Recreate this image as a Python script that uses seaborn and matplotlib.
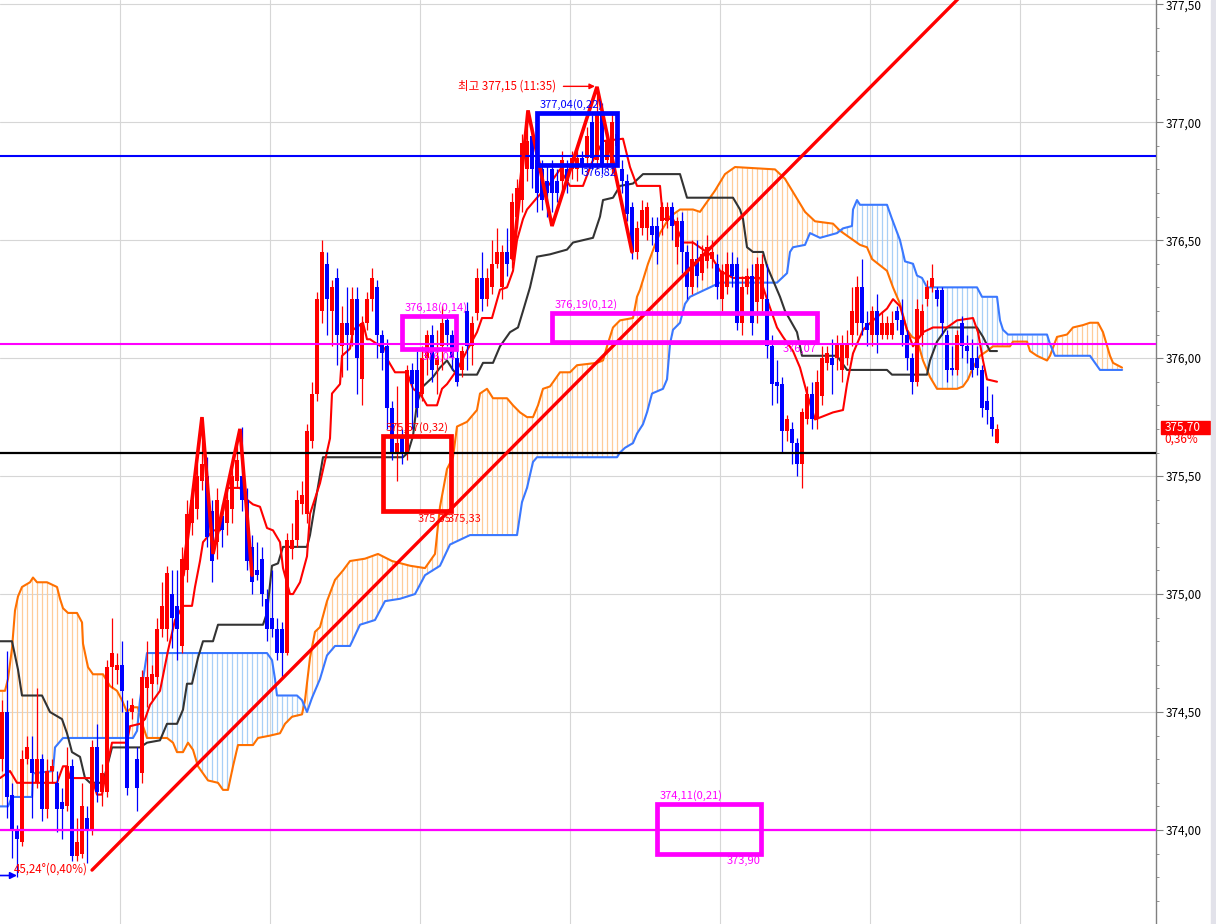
import numpy as np
import pandas as pd
import matplotlib
matplotlib.use('Agg')
import matplotlib.pyplot as plt
from matplotlib.patches import Rectangle
from matplotlib.ticker import MultipleLocator, FuncFormatter
import seaborn as sns

sns.set_style('white')
plt.rcParams['font.family'] = ['Noto Sans CJK KR', 'DejaVu Sans']

# 봉 데이터 (시가, 고가, 저가, 종가)
opens = [374.30, 374.50, 374.15, 374.00, 373.95, 374.30, 374.30, 374.20, 374.30, 374.09,
         374.25, 374.20, 374.12, 374.10, 374.27, 373.89, 373.90, 374.05, 374.00, 374.35,
         374.16, 374.16, 374.69, 374.68, 374.70, 374.50, 374.50, 374.30, 374.24, 374.60,
         374.62, 374.65, 374.85, 374.85, 375.00, 374.95, 374.78, 375.10, 375.30, 375.36,
         375.48, 375.50, 375.35, 375.22, 375.33, 375.30, 375.36, 375.48, 375.50, 375.40,
         375.20, 375.10, 375.15, 374.98, 374.90, 374.85, 374.85, 374.75, 375.19, 375.23,
         375.38, 375.34, 375.65, 375.85, 376.20, 376.40, 376.20, 376.34, 376.05, 376.15,
         376.10, 376.25, 375.91, 376.15, 376.25, 376.30, 376.10, 376.05, 375.79, 375.60,
         375.66, 375.60, 375.95, 375.95, 375.85, 376.00, 376.10, 375.97, 376.05, 376.16,
         376.10, 376.00, 375.95, 376.20, 376.05, 376.19, 376.34, 376.25, 376.30, 376.40,
         376.30, 376.45, 376.42, 376.60, 376.67, 376.80, 376.94, 376.84, 376.80, 376.75,
         376.80, 376.75, 376.75, 376.80, 376.80, 376.80, 376.85, 376.85, 377.00, 376.84,
         377.04, 376.84, 376.82, 376.90, 376.80, 376.75, 376.64, 376.45, 376.55, 376.55,
         376.56, 376.56, 376.58, 376.58, 376.64, 376.47, 376.58, 376.45, 376.30, 376.42,
         376.36, 376.41, 376.42, 376.40, 376.25, 376.30, 376.40, 376.40, 376.15, 376.30,
         376.35, 376.24, 376.25, 376.25, 376.05, 375.90, 375.89, 375.69, 375.70, 375.64,
         375.55, 375.74, 375.85, 375.74, 375.84, 375.98, 376.00, 376.00, 375.95, 376.00,
         376.10, 376.15, 376.30, 376.15, 376.10, 376.20, 376.10, 376.10, 376.10, 376.20,
         376.16, 376.10, 376.00, 375.90, 376.10, 376.25, 376.30, 376.29, 376.29, 376.10,
         375.96, 375.95, 376.15, 376.05, 376.00, 376.00, 375.95, 375.82, 375.75, 375.64]
highs = [374.55, 374.76, 374.20, 374.02, 374.34, 374.40, 374.40, 374.60, 374.32, 374.30,
         374.30, 374.25, 374.18, 374.35, 374.30, 374.05, 374.20, 374.10, 374.38, 374.45,
         374.28, 374.72, 374.90, 374.75, 374.80, 374.55, 374.56, 374.35, 374.68, 374.80,
         374.70, 374.90, 375.05, 375.12, 375.10, 375.10, 375.20, 375.40, 375.45, 375.55,
         375.72, 375.58, 375.40, 375.45, 375.38, 375.45, 375.55, 375.66, 375.71, 375.45,
         375.25, 375.22, 375.20, 375.02, 375.10, 374.90, 374.88, 375.26, 375.30, 375.44,
         375.48, 375.72, 375.90, 376.28, 376.50, 376.45, 376.33, 376.38, 376.22, 376.30,
         376.30, 376.30, 376.18, 376.28, 376.38, 376.33, 376.12, 376.08, 375.82, 375.88,
         375.70, 375.97, 375.98, 376.03, 376.05, 376.12, 376.14, 376.12, 376.22, 376.18,
         376.12, 376.04, 376.05, 376.24, 376.18, 376.38, 376.45, 376.38, 376.50, 376.55,
         376.48, 376.55, 376.70, 376.76, 376.95, 377.05, 376.98, 376.88, 376.84, 376.82,
         376.84, 376.80, 376.88, 376.84, 376.88, 376.90, 376.88, 376.98, 377.03, 377.15,
         377.08, 376.96, 377.04, 377.02, 376.84, 376.78, 376.66, 376.58, 376.67, 376.66,
         376.60, 376.60, 376.66, 376.66, 376.66, 376.60, 376.62, 376.48, 376.50, 376.50,
         376.48, 376.52, 376.50, 376.44, 376.40, 376.45, 376.45, 376.43, 376.35, 376.38,
         376.40, 376.43, 376.44, 376.40, 376.10, 375.99, 375.92, 375.76, 375.73, 375.66,
         375.79, 375.88, 375.90, 375.95, 376.05, 376.05, 376.08, 376.10, 376.10, 376.12,
         376.30, 376.35, 376.42, 376.20, 376.22, 376.27, 376.20, 376.18, 376.20, 376.22,
         376.25, 376.12, 376.02, 376.25, 376.23, 376.33, 376.40, 376.30, 376.30, 376.12,
         376.05, 376.12, 376.18, 376.10, 376.08, 376.05, 375.97, 375.88, 375.85, 375.72]
lows = [374.25, 374.05, 373.88, 373.80, 373.93, 374.28, 374.05, 374.18, 374.04, 374.05,
        374.20, 373.99, 373.96, 374.08, 373.87, 373.87, 373.88, 373.86, 373.98, 374.12,
        374.10, 374.14, 374.60, 374.62, 374.50, 374.15, 374.47, 374.08, 374.20, 374.52,
        374.55, 374.62, 374.82, 374.80, 374.77, 374.72, 374.75, 375.05, 375.25, 375.32,
        375.44, 375.20, 375.05, 375.15, 375.20, 375.25, 375.30, 375.45, 375.35, 375.10,
        375.00, 375.06, 374.95, 374.80, 374.82, 374.72, 374.65, 374.74, 375.15, 375.20,
        375.34, 375.30, 375.62, 375.82, 376.15, 376.10, 376.05, 375.97, 375.92, 375.95,
        376.05, 375.85, 375.80, 376.12, 376.20, 376.00, 375.95, 375.70, 375.57, 375.48,
        375.55, 375.57, 375.70, 375.75, 375.82, 375.93, 375.90, 375.85, 375.95, 376.05,
        375.95, 375.88, 375.92, 375.95, 375.97, 376.16, 376.20, 376.22, 376.27, 376.38,
        376.25, 376.35, 376.38, 376.55, 376.62, 376.75, 376.72, 376.62, 376.63, 376.60,
        376.62, 376.66, 376.70, 376.70, 376.76, 376.75, 376.78, 376.82, 376.80, 376.80,
        376.78, 376.80, 376.78, 376.85, 376.70, 376.58, 376.42, 376.42, 376.52, 376.50,
        376.48, 376.40, 376.52, 376.55, 376.50, 376.40, 376.36, 376.25, 376.27, 376.30,
        376.33, 376.38, 376.38, 376.25, 376.20, 376.27, 376.30, 376.12, 376.10, 376.27,
        376.10, 376.15, 376.20, 376.00, 375.80, 375.81, 375.60, 375.65, 375.55, 375.50,
        375.45, 375.72, 375.70, 375.70, 375.80, 375.95, 375.85, 375.95, 375.90, 375.97,
        376.05, 376.10, 376.10, 376.05, 376.05, 376.02, 376.08, 376.08, 376.08, 376.12,
        376.05, 375.95, 375.85, 375.88, 376.05, 376.22, 376.28, 376.22, 376.10, 375.90,
        375.93, 375.93, 376.00, 375.98, 375.92, 375.93, 375.75, 375.72, 375.67, 375.64]
closes = [374.50, 374.14, 374.00, 373.96, 374.30, 374.35, 374.24, 374.30, 374.09, 374.25,
          374.27, 374.09, 374.09, 374.27, 373.89, 373.95, 374.10, 374.00, 374.35, 374.16,
          374.24, 374.69, 374.75, 374.70, 374.59, 374.18, 374.53, 374.18, 374.65, 374.65,
          374.66, 374.85, 374.95, 375.09, 374.90, 374.85, 375.15, 375.34, 375.40, 375.50,
          375.55, 375.24, 375.14, 375.40, 375.27, 375.40, 375.50, 375.57, 375.40, 375.14,
          375.05, 375.08, 375.00, 374.85, 374.85, 374.75, 374.75, 375.23, 375.23, 375.40,
          375.42, 375.69, 375.85, 376.25, 376.45, 376.25, 376.30, 376.10, 376.15, 376.10,
          376.25, 376.00, 376.15, 376.25, 376.34, 376.10, 376.02, 375.79, 375.60, 375.64,
          375.60, 375.95, 375.89, 375.79, 376.00, 376.10, 375.95, 376.00, 376.15, 376.10,
          376.00, 375.90, 376.03, 376.05, 376.15, 376.34, 376.25, 376.34, 376.40, 376.45,
          376.45, 376.40, 376.66, 376.72, 376.91, 376.92, 376.80, 376.70, 376.67, 376.70,
          376.70, 376.70, 376.84, 376.75, 376.85, 376.85, 376.82, 376.94, 376.85, 377.04,
          376.82, 376.92, 377.00, 376.95, 376.75, 376.61, 376.45, 376.55, 376.63, 376.64,
          376.52, 376.45, 376.64, 376.64, 376.56, 376.58, 376.45, 376.30, 376.42, 376.35,
          376.44, 376.47, 376.45, 376.30, 376.37, 376.40, 376.35, 376.15, 376.30, 376.35,
          376.15, 376.40, 376.40, 376.05, 375.89, 375.88, 375.69, 375.74, 375.64, 375.55,
          375.77, 375.85, 375.74, 375.90, 376.00, 376.02, 375.97, 376.06, 376.06, 376.06,
          376.20, 376.30, 376.15, 376.12, 376.20, 376.10, 376.15, 376.15, 376.15, 376.16,
          376.10, 376.00, 375.90, 376.21, 376.20, 376.30, 376.34, 376.25, 376.15, 375.95,
          375.95, 376.10, 376.05, 376.03, 375.95, 375.96, 375.79, 375.78, 375.70, 375.70]

# 일목균형표 (봉 번호, 가격)
tenkan = [(-0.4, 374.22), (1.6, 374.25), (3, 374.20), (11, 374.20), (12.2, 374.27), (13, 374.27),
          (13.6, 374.22), (18, 374.22), (19, 374.15), (20, 374.15), (21, 374.27), (22, 374.37),
          (25, 374.37), (25.6, 374.44), (27.6, 374.45), (28.6, 374.47), (29.6, 374.53), (31.6, 374.59),
          (33.2, 374.76), (34.6, 374.89), (36.2, 374.95), (38, 374.95), (38.6, 375.03), (39.6, 375.14),
          (40.2, 375.22), (42.2, 375.27), (43.6, 375.27), (45, 375.45), (47.6, 375.45), (49, 375.40),
          (50.2, 375.38), (51.6, 375.37), (53, 375.28), (54.2, 375.27), (55.6, 375.22), (56.2, 375.11),
          (57.6, 375.00), (58.2, 375.00), (59.6, 375.05), (61, 375.16), (61.6, 375.34), (63.6, 375.47),
          (65.6, 375.66), (66, 375.85), (67.6, 375.89), (68, 376.01), (69.6, 376.04), (70.2, 376.12),
          (72.2, 376.15), (73, 376.08), (73.6, 376.08), (75, 376.06), (76.6, 376.04), (77.2, 375.99),
          (78.6, 375.94), (81, 375.94), (82.2, 375.87), (83.6, 375.85), (85, 375.80), (87, 375.80),
          (88, 375.87), (89, 375.89), (91, 375.95), (93.2, 376.04), (95, 376.11), (96, 376.17),
          (98, 376.17), (99.6, 376.29), (101, 376.30), (102.2, 376.37), (103, 376.50), (104.2, 376.59),
          (105, 376.63), (107, 376.68), (109.6, 376.74), (111.6, 376.80), (113.6, 376.73), (116.2, 376.73),
          (118, 376.83), (120.2, 376.92), (124.2, 376.93), (125.6, 376.81), (127, 376.73), (131.6, 376.73),
          (132.2, 376.59), (134.2, 376.59), (136.2, 376.49), (138.2, 376.49), (141.6, 376.44), (143.6, 376.37),
          (146.2, 376.34), (151.6, 376.34), (153, 376.25), (155, 376.13), (156.2, 376.09), (158.2, 376.03),
          (159.6, 375.96), (161, 375.85), (162.6, 375.74), (166.2, 375.77), (168.2, 375.78), (169, 375.89),
          (170.2, 376.02), (172.2, 376.12), (174.2, 376.16), (177, 376.21), (178.2, 376.25), (179.6, 376.22),
          (181, 376.12), (182.2, 376.05), (184.2, 376.11), (186.2, 376.13), (189, 376.13), (191, 376.16),
          (194.2, 376.17), (195.2, 376.11), (196.2, 375.99), (197, 375.91), (199, 375.90)]
kijun = [(-0.4, 374.80), (2, 374.80), (3.2, 374.68), (4, 374.57), (8, 374.57), (9.6, 374.50),
         (12, 374.47), (13, 374.41), (14, 374.33), (15.6, 374.31), (16.6, 374.22), (17.6, 374.20),
         (20.2, 374.20), (22, 374.35), (27.6, 374.35), (29, 374.37), (31.6, 374.38), (33, 374.45),
         (35, 374.45), (36.2, 374.51), (37, 374.62), (38, 374.62), (39.2, 374.73), (40.2, 374.80),
         (42.2, 374.80), (43.2, 374.87), (52.2, 374.87), (53, 374.92), (54, 375.12), (55.2, 375.13),
         (56.2, 375.20), (61, 375.20), (61.6, 375.25), (63, 375.43), (64.2, 375.58), (80.2, 375.58),
         (81.2, 375.60), (82.2, 375.67), (83, 375.81), (84.2, 375.88), (86.2, 375.92), (87.6, 375.96),
         (89, 375.99), (90.2, 375.95), (91, 375.93), (95, 375.93), (96.2, 375.98), (98.2, 375.98),
         (99.6, 376.05), (101.6, 376.11), (103.2, 376.13), (104.2, 376.20), (105.6, 376.30), (107, 376.43),
         (109.6, 376.44), (113, 376.46), (114.2, 376.49), (116.2, 376.50), (118.2, 376.51), (119.6, 376.60),
         (120.2, 376.67), (122.2, 376.68), (123.6, 376.73), (126.2, 376.74), (128.2, 376.78), (135.6, 376.78),
         (137, 376.68), (146.2, 376.68), (147.6, 376.63), (148.2, 376.59), (149, 376.47), (150.2, 376.45),
         (152.2, 376.45), (153, 376.39), (154.2, 376.33), (155.6, 376.26), (156.6, 376.20), (159, 376.11),
         (160, 376.01), (167, 376.01), (169, 375.95), (177, 375.95), (178, 375.93), (185, 375.93),
         (185.6, 375.99), (187, 376.07), (189, 376.13), (195, 376.13), (196.2, 376.09), (197.6, 376.03),
         (199, 376.03)]
span_a = [(-0.4, 374.59), (0.6, 374.59), (1.2, 374.64), (2, 374.77), (2.6, 374.93), (3.2, 374.99),
          (4, 375.03), (5.6, 375.05), (6.2, 375.07), (7, 375.05), (9, 375.05), (11, 375.03),
          (11.6, 374.98), (12.2, 374.94), (13.2, 374.92), (15, 374.92), (16, 374.88), (16.2, 374.79),
          (17.2, 374.69), (18.2, 374.66), (20.2, 374.66), (21.6, 374.61), (23, 374.59), (24, 374.55),
          (25, 374.50), (26, 374.52), (27.2, 374.52), (28.2, 374.44), (29, 374.39), (33, 374.39),
          (34.2, 374.37), (35, 374.33), (36.2, 374.33), (37.2, 374.37), (38.2, 374.34), (39.2, 374.27),
          (41.2, 374.21), (43.2, 374.20), (44.2, 374.17), (45.2, 374.17), (46.2, 374.27), (47.2, 374.36),
          (50.2, 374.36), (51.2, 374.39), (53.6, 374.40), (55.6, 374.41), (56.6, 374.45), (58, 374.48),
          (60, 374.49), (60.6, 374.55), (61.6, 374.73), (62.6, 374.84), (63.6, 374.86), (65, 374.97),
          (66.6, 375.06), (68.2, 375.10), (69.6, 375.14), (72.6, 375.15), (75.2, 375.17), (78, 375.14),
          (81.6, 375.12), (84.6, 375.11), (86.6, 375.17), (87.6, 375.37), (89, 375.53), (90.2, 375.58),
          (91, 375.71), (93, 375.73), (95, 375.78), (95.6, 375.85), (97, 375.87), (98.2, 375.83),
          (101, 375.83), (102.2, 375.80), (103.6, 375.77), (105, 375.75), (106.2, 375.75), (107.2, 375.80),
          (108.2, 375.87), (109.6, 375.88), (111.6, 375.94), (113.6, 375.94), (115, 375.97), (119, 375.98),
          (120.2, 375.99), (121, 376.05), (122.2, 376.13), (123.6, 376.16), (126.2, 376.17), (127, 376.26),
          (127.6, 376.29), (129.2, 376.40), (130.6, 376.48), (131.6, 376.53), (133.6, 376.60), (135.6, 376.63),
          (138.2, 376.63), (139.6, 376.62), (142.6, 376.71), (144.6, 376.78), (146.6, 376.81), (154.6, 376.80),
          (156.6, 376.76), (158.6, 376.69), (160.6, 376.62), (162.6, 376.58), (166.2, 376.57), (167.6, 376.54),
          (169.6, 376.51), (171.6, 376.48), (173, 376.47), (174, 376.42), (177, 376.37), (178.2, 376.30),
          (179.6, 376.23), (181, 376.12), (182, 376.09), (183, 376.08), (184.2, 375.99), (185.6, 375.92),
          (187, 375.87), (188.2, 375.87), (191, 375.87), (192.2, 375.88), (193.2, 375.91), (194.2, 375.96),
          (195.6, 376.01), (197, 376.03), (198.2, 376.05), (201.6, 376.05), (202.2, 376.07), (205, 376.07),
          (205.6, 376.03), (207, 376.01), (209, 375.99), (209.6, 376.01), (211, 376.09), (213, 376.10),
          (214.2, 376.13), (216.2, 376.14), (217.6, 376.15), (219.2, 376.15), (220.2, 376.11), (221.6, 376.01),
          (222.2, 375.98), (224, 375.96)]
span_b = [(-0.4, 374.10), (1.2, 374.10), (2, 374.14), (6, 374.14), (6.2, 374.24), (10.2, 374.25),
          (10.6, 374.35), (12.2, 374.39), (26.2, 374.39), (27, 374.42), (27.6, 374.55), (29, 374.75),
          (53, 374.75), (54, 374.72), (54.6, 374.64), (55, 374.57), (59, 374.57), (60, 374.55),
          (61, 374.50), (62, 374.56), (63, 374.61), (63.6, 374.64), (65, 374.74), (66.6, 374.78),
          (69.6, 374.78), (71.6, 374.87), (74.6, 374.89), (76.6, 374.97), (79.6, 374.98), (82.6, 375.00),
          (84.6, 375.08), (87.6, 375.12), (89.6, 375.21), (91.6, 375.23), (93.6, 375.25), (103, 375.25),
          (104, 375.39), (105, 375.45), (106.2, 375.56), (107, 375.58), (123, 375.58), (123.6, 375.60),
          (124.6, 375.62), (126.2, 375.64), (127, 375.68), (128.2, 375.72), (129, 375.77), (130, 375.85),
          (132.2, 375.87), (133, 375.91), (133.6, 376.06), (134.2, 376.12), (135.6, 376.15), (136.6, 376.23),
          (137.6, 376.26), (139.6, 376.28), (143.6, 376.32), (155, 376.32), (156, 376.34), (157, 376.36),
          (157.6, 376.45), (158.2, 376.47), (160.6, 376.48), (161.6, 376.53), (163.6, 376.51), (167, 376.53),
          (168.2, 376.55), (170, 376.56), (170.2, 376.63), (171, 376.67), (171.6, 376.65), (177, 376.65),
          (178, 376.59), (179.6, 376.50), (180.6, 376.41), (182.2, 376.40), (183, 376.35), (184, 376.34),
          (185, 376.30), (195, 376.30), (196, 376.26), (199, 376.26), (199.6, 376.16), (200.2, 376.12),
          (201.2, 376.10), (209, 376.10), (209.6, 376.06), (210.6, 376.01), (217.6, 376.01), (218.6, 375.98),
          (219.6, 375.95), (224, 375.95)]

# 작도 (파동선, 추세선, 수평선, 박스)
wave_1 = [(36.2, 375.08), (40, 375.75), (42.2, 375.17), (47.6, 375.70), (50, 375.08)]
wave_2 = [(102.2, 376.42), (105.2, 377.05), (110, 376.56), (119, 377.15), (126, 376.45)]
trend = [(18, 373.83), (200, 377.71)]
hlines = [(376.857, '#0000ff', 1.5), (376.058, '#ff00ff', 1.5), (375.597, '#000000', 1.6), (374.00, '#ff00ff', 1.6)]
boxes = [(80, 90.8, 376.04, 376.18, '#ff00ff', '376,18(0,14)', '376,04'),
         (110, 163, 376.07, 376.19, '#ff00ff', '376,19(0,12)', '376,07'),
         (76.2, 89.8, 375.35, 375.67, '#ff0000', '375,67(0,32)', '375,35'),
         (107, 123, 376.82, 377.04, '#0000ff', '377,04(0,22)', '376,82'),
         (131, 151.8, 373.90, 374.11, '#ff00ff', '374,11(0,21)', '373,90')]
grid_x = [23.6, 53.6, 83.6, 113.6, 143.6, 173.6, 203.6]

fig = plt.figure(figsize=(12.16, 9.24), dpi=100)
ax = fig.add_axes([0, 0, 1156 / 1216, 1])
ax.set_xlim(-0.4, 230.8)
ax.set_ylim(373.6015, 377.518)

# 그리드
for gx in grid_x:
    ax.axvline(gx, color='#d6d6d6', lw=0.8, zorder=0)
for gy in np.arange(374.0, 377.51, 0.5):
    ax.axhline(gy, color='#d6d6d6', lw=0.8, zorder=0)

# 구름대 빗금
sa = np.array(span_a)
sb = np.array(span_b)
ci = np.arange(0, 225)
a = np.interp(ci, sa[:, 0], sa[:, 1])
b = np.interp(ci, sb[:, 0], sb[:, 1])
up = a >= b
ax.vlines(ci[up], b[up], a[up], color='#ffcc99', lw=0.9, zorder=1)
ax.vlines(ci[~up], a[~up], b[~up], color='#a8cff7', lw=0.9, zorder=1)

for pts, col in [(span_a, '#ff7000'), (span_b, '#3a78ff'), (kijun, '#333333'), (tenkan, '#ff0000')]:
    d = pd.DataFrame(pts, columns=['x', 'y'])
    sns.lineplot(data=d, x='x', y='y', ax=ax, color=col, lw=1.5, sort=False, estimator=None, zorder=3)

# 캔들
df = pd.DataFrame({'o': opens, 'h': highs, 'l': lows, 'c': closes})
idx = np.arange(len(df))
cols = np.where(df.c >= df.o, '#ff0000', '#0000ff')
ax.vlines(idx, df.l, df.h, colors=cols, lw=0.9, zorder=4)
body = (df.c - df.o).abs().clip(lower=0.006)
ax.bar(idx, body, bottom=np.minimum(df.o, df.c), width=0.75, color=cols, linewidth=0, zorder=4)

for y, col, lw in hlines:
    ax.axhline(y, color=col, lw=lw, zorder=5)

for w in (wave_1, wave_2):
    w = np.array(w)
    ax.plot(w[:, 0], w[:, 1], color='#ff0000', lw=2.6, zorder=6, solid_joinstyle='miter')
t = np.array(trend)
ax.plot(t[:, 0], t[:, 1], color='#ff0000', lw=2.4, zorder=6)

for x0, x1, lo, hi, col, top, bot in boxes:
    ax.add_patch(Rectangle((x0, lo), x1 - x0, hi - lo, fill=False, ec=col, lw=3.4, zorder=7))
    ax.text(x0 + 0.5, hi + 0.012, top, color=col, fontsize=8, ha='left', va='bottom', zorder=8)
    ax.text(x1, lo - 0.012, bot, color=col, fontsize=8, ha='right', va='top', zorder=8)
ax.text(89.2, 375.338, '375,33', color='#ff0000', fontsize=8, ha='left', va='top', zorder=8)

ax.annotate('최고 377,15 (11:35)', xy=(118.6, 377.152), xytext=(110.8, 377.152),
            color='#ff0000', fontsize=8.3, ha='right', va='center', zorder=8,
            arrowprops=dict(arrowstyle='-|>', color='#ff0000', lw=1, shrinkA=3, shrinkB=0, mutation_scale=8))
ax.text(2.3, 373.835, '45,24°(0,40%)', color='#ff0000', fontsize=8.3, ha='left', va='center', zorder=8)
ax.annotate('', xy=(3.0, 373.807), xytext=(-0.4, 373.807),
            arrowprops=dict(arrowstyle='-|>', color='#0000ff', lw=1.2, shrinkA=0, shrinkB=0, mutation_scale=10))

# 가격축
for s in ['top', 'left', 'bottom']:
    ax.spines[s].set_visible(False)
ax.spines['right'].set_color('#808080')
ax.spines['right'].set_linewidth(1)
ax.set_xticks([])
ax.yaxis.tick_right()
ax.yaxis.set_major_locator(MultipleLocator(0.5))
ax.yaxis.set_minor_locator(MultipleLocator(0.1))
ax.yaxis.set_major_formatter(FuncFormatter(lambda v, _: f'{v:.2f}'.replace('.', ',')))
ax.tick_params(axis='y', which='major', length=5, color='#808080', labelsize=8.5, pad=2, labelcolor='black')
ax.tick_params(axis='y', which='minor', length=2.5, color='#808080')
ax.set_xlabel('')
ax.set_ylabel('')

tr = ax.get_yaxis_transform()
ax.add_patch(Rectangle((1.0045, 375.680), 0.0425, 0.055, transform=tr, color='#ff0000', clip_on=False, zorder=9))
ax.text(1.0075, 375.707, '375,70', transform=tr, color='white', fontsize=8.5, va='center', ha='left', zorder=10, clip_on=False)
ax.text(1.0075, 375.655, '0,36%', transform=tr, color='#ff0000', fontsize=8.5, va='center', ha='left', zorder=10, clip_on=False)

fig.patches.append(Rectangle((1211 / 1216, 0), 5 / 1216, 1, transform=fig.transFigure, color='#e2e2ea', zorder=0))

fig.savefig('out.png', dpi=100)
